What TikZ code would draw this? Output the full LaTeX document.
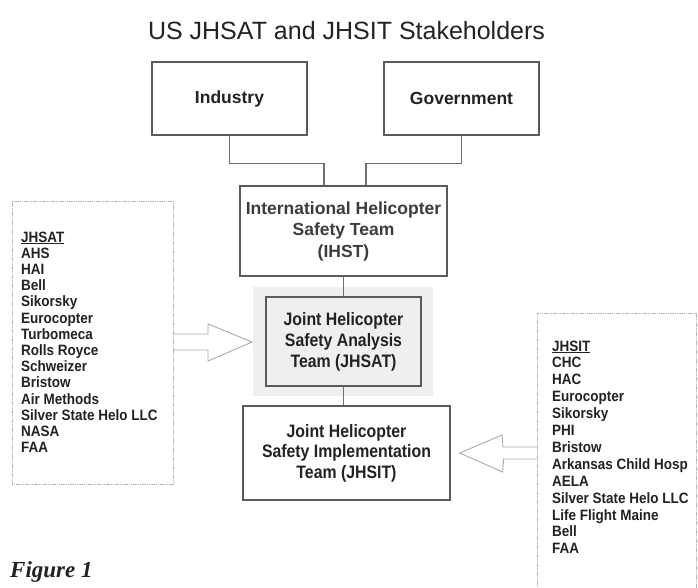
\documentclass[tikz,border=0pt]{standalone}
\usepackage{fontspec}
\setmainfont{Liberation Sans}
\newfontfamily\condsans[FakeStretch=0.9]{Liberation Sans}
\newfontfamily\boxsans[FakeStretch=0.88]{Liberation Sans}
\newfontfamily\figfont{Liberation Serif}
\usetikzlibrary{calc}
\definecolor{boxline}{HTML}{5A5A5A}
\definecolor{conline}{HTML}{707070}
\definecolor{txt}{HTML}{222222}
\definecolor{ihsttxt}{HTML}{3C3C3C}
\definecolor{listline}{HTML}{B4B4B4}
\definecolor{arrline}{HTML}{ABABAB}
\definecolor{shade}{HTML}{EFEFEF}
\tikzset{
  topbox/.style={draw=boxline, line width=1.3pt, inner sep=0pt, align=center, text=txt},
  connector/.style={draw=conline, line width=1.3pt},
  listframe/.style={draw=listline, line width=0.9pt, dash pattern=on 1.2pt off 0.6pt, inner sep=0pt, outer sep=0pt},
  listtext/.style={anchor=base west, inner sep=0pt, text=txt, font=\condsans\bfseries\fontsize{15}{17}\selectfont},
  blockarrow/.style={draw=arrline, line width=0.9pt, line join=miter},
}
\begin{document}
\begin{tikzpicture}[x=1pt,y=-1pt]
\fill[white] (0,0) rectangle (698,588);
\useasboundingbox (0,0) rectangle (698,588);

% title
\node[anchor=base, inner sep=0pt, text=txt, font=\fontsize{25}{30}\selectfont] (title) at (346.5,40) {US JHSAT and JHSIT Stakeholders};

% top boxes
\node[topbox, minimum width=155pt, minimum height=73pt, font=\bfseries\fontsize{17.5}{21}\selectfont] (industry) at (229.5,98.5) {Industry};
\node[topbox, minimum width=155pt, minimum height=73pt, font=\bfseries\fontsize{17.5}{21}\selectfont] (government) at (461.5,98.5) {Government};

% IHST
\node[topbox, minimum width=207pt, minimum height=90pt, text=ihsttxt, font=\bfseries\fontsize{17.5}{21.5}\selectfont] (ihst) at (343.5,231) {International Helicopter\\Safety Team\\(IHST)};

% JHSAT with shaded backdrop
\node[fill=shade, minimum width=180pt, minimum height=109pt, inner sep=0pt, outer sep=0pt] (jhsatbg) at (343,341.5) {};
\node[topbox, minimum width=155pt, minimum height=89pt, font=\boxsans\bfseries\fontsize{18}{21}\selectfont] (jhsat) at (343.5,341.5) {Joint Helicopter\\Safety Analysis\\Team (JHSAT)};

% JHSIT
\node[topbox, minimum width=207pt, minimum height=94pt, font=\boxsans\bfseries\fontsize{18}{20.5}\selectfont] (jhsit) at (346.5,453) {Joint Helicopter\\Safety Implementation\\Team (JHSIT)};

% connectors
\draw[connector] (industry.south) -- ++(0,28) -| ([xshift=-19.5pt]ihst.north);
\draw[connector] (government.south) -- ++(0,28) -| ([xshift=22.5pt]ihst.north);
\draw[connector] (ihst.south) -- (jhsat.north);
\draw[connector] (jhsat.south) -- (jhsat.south |- jhsit.north);

% list frames
\node[listframe, minimum width=161pt, minimum height=283pt] (leftlist) at (92.5,342.5) {};
\node[listframe, minimum width=159pt, minimum height=300pt, anchor=north west] (rightlist) at (537,313) {};

% left list
\foreach \t [count=\i from 0] in {\underline{JHSAT},AHS,HAI,Bell,Sikorsky,Eurocopter,Turbomeca,Rolls Royce,Schweizer,Bristow,Air Methods,Silver State Helo LLC,NASA,FAA}
  \node[listtext] (ls\i) at (21,{242+16.2*\i}) {\t};

% right list
\foreach \t [count=\i from 0] in {\underline{JHSIT},CHC,HAC,Eurocopter,Sikorsky,PHI,Bristow,Arkansas Child Hosp,AELA,Silver State Helo LLC,Life Flight Maine,Bell,FAA}
  \node[listtext] (rs\i) at (552,{351+16.9*\i}) {\t};

% block arrows
\draw[blockarrow] ($(leftlist.east)+(0,-8.5)$) -- ++(35,0) -- ++(0,-10) -- ($(jhsatbg.west)+(-1,0.5)$) -- ++(-44,19) -- ++(0,-11) -- ++(-35,0);
\draw[blockarrow] ($(rightlist.north west)+(0,134)$) -- ++(-34,0) -- ++(-1,-12) -- ($(jhsit.east)+(9,0)$) -- ++(43,19) -- ++(1,-13) -- ++(34,0);

% caption
\node[anchor=base west, inner sep=0pt, text=txt, font=\figfont\bfseries\itshape\fontsize{23}{27}\selectfont] (fig) at (10,577) {Figure 1};
\end{tikzpicture}
\end{document}
